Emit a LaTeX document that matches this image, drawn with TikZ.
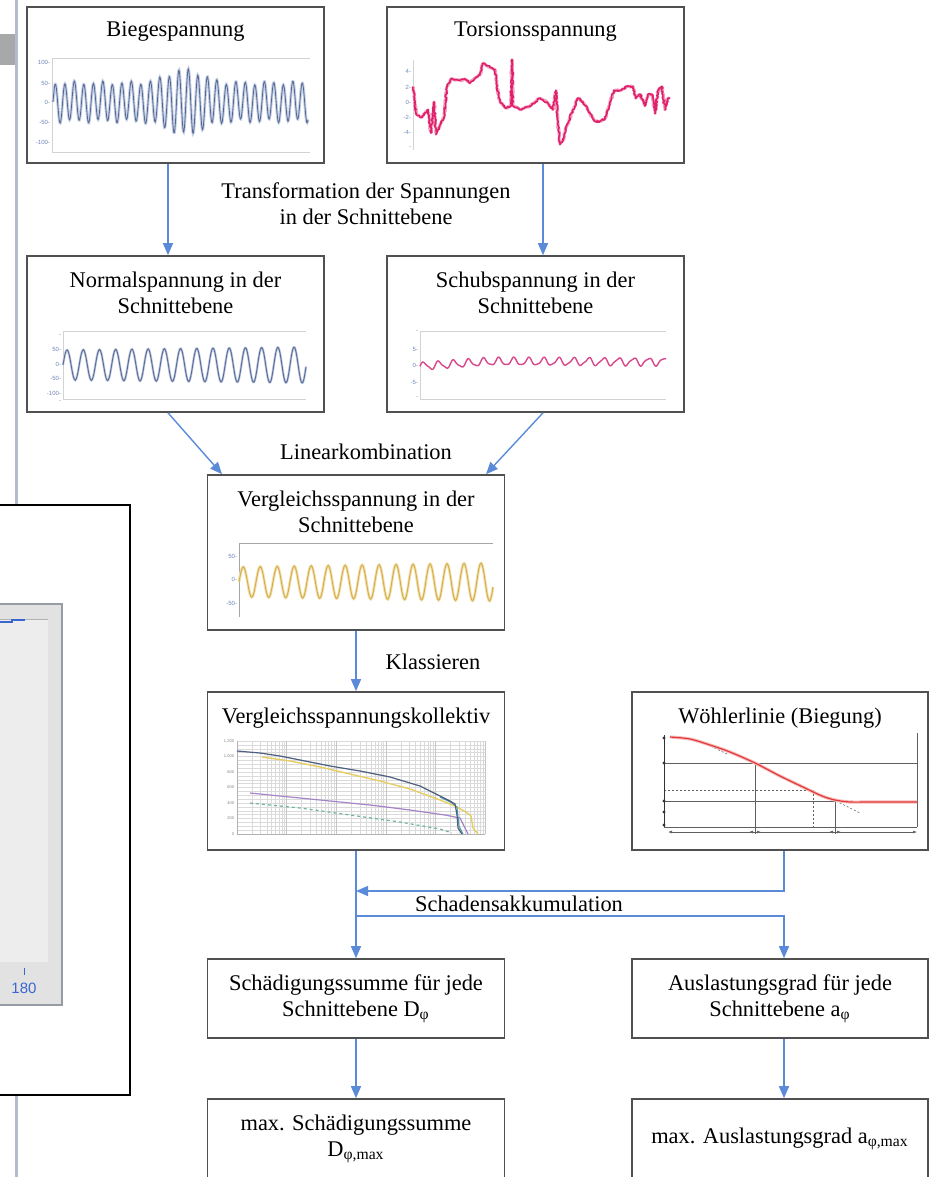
\documentclass[tikz,border=0pt]{standalone}
\usepackage{fontspec}
\setmainfont{Liberation Serif}
\newfontfamily\axisfont{Liberation Sans}
\usetikzlibrary{arrows.meta,positioning,decorations.pathmorphing}

\definecolor{arrowblue}{HTML}{5B8BD8}
\definecolor{boxgray}{HTML}{505050}
\definecolor{ticklabel}{HTML}{6F86B8}
\definecolor{biegblue}{HTML}{55668F}
\definecolor{bieghalo}{HTML}{C4D0E6}
\definecolor{torsred}{HTML}{E0206A}
\definecolor{torshalo}{HTML}{F2A0C0}
\definecolor{normblue}{HTML}{5F6E98}
\definecolor{schubpink}{HTML}{D8488A}
\definecolor{verggold}{HTML}{D6AE4E}
\definecolor{verghalo}{HTML}{F2E2B0}
\definecolor{gridgray}{HTML}{DADADA}
\definecolor{kolldark}{HTML}{4E5E7E}
\definecolor{kollteal}{HTML}{4A9AA8}
\definecolor{kollyellow}{HTML}{E6CE64}
\definecolor{kollpurple}{HTML}{A585C8}
\definecolor{kollgreen}{HTML}{6EB4A0}
\definecolor{woehred}{HTML}{E23A3A}
\definecolor{sidegray}{HTML}{B4BCCC}
\definecolor{bargray}{HTML}{A6A8AA}
\definecolor{panelgray}{HTML}{E2E2E2}
\definecolor{panelline}{HTML}{969CA4}
\definecolor{plotgray}{HTML}{EDEDED}
\definecolor{screenblue}{HTML}{3A66D0}

\begin{document}
\begin{tikzpicture}[
    x=0.5pt, y=-0.5pt,
    font=\fontsize{11.2}{13}\selectfont,
    panel/.style={draw=boxgray, line width=0.8pt, fill=white, minimum width=148.5pt, minimum height=78pt, inner sep=0pt, align=center},
    boxtitle/.style={align=center, inner sep=0pt},
    arrow/.style={-{Triangle[length=6pt, width=5pt]}, draw=arrowblue, line width=0.7pt},
    ticklbl/.style={font=\axisfont\fontsize{3}{3}\selectfont, text=ticklabel, anchor=east, inner sep=0.3pt},
    plotframe/.style={draw=gray!35, line width=0.3pt},
    thinline/.style={draw=gray!75!black, line width=0.3pt}
]
\useasboundingbox (0,0) rectangle (929,1177);
\clip (0,0) rectangle (929,1177);
\pgfmathsetseed{7}

% screen window at the left
\fill[bargray] (0,34) rectangle (15,65);
\draw[sidegray, line width=1.5pt] (16.5,0) -- (16.5,1177);
\draw[fill=white, line width=1pt] (-5,505) rectangle (129.5,1095);
\draw[fill=panelgray, draw=panelline, line width=0.8pt] (-5,604) rectangle (62,1005);
\fill[plotgray] (-5,619) rectangle (48,962);
\draw[gray!60, line width=0.5pt] (-5,619) -- (48,619);
\draw[screenblue, line width=0.6pt] (-5,622) -- (12,622) -- (12,620) -- (25,620);
\draw[screenblue, line width=0.5pt] (24,968) -- (24,975);
\node[font=\axisfont\fontsize{7.5}{7.5}\selectfont, text=screenblue, inner sep=0pt] (scr180) at (24,988) {180};

% boxes
\node[panel] (bieg) at (175.5,85) {};
\node[panel] (tors) at (535.5,85) {};
\node[panel] (normal) at (175.5,334) {};
\node[panel] (schub) at (535.5,334) {};
\node[panel, minimum height=77.5pt] (vergl) at (356,552.5) {};
\node[panel, minimum height=79pt] (koll) at (356,771) {};
\node[panel, minimum height=79pt, minimum width=148pt] (woehler) at (780,771) {};
\node[panel, minimum height=39.5pt] (schaed) at (356,998.5) {Schädigungssumme für jede\\Schnittebene D\textsubscript{φ}};
\node[panel, minimum height=39.5pt, minimum width=148pt] (ausl) at (780,998.5) {Auslastungsgrad für jede\\Schnittebene a\textsubscript{φ}};
\node[panel, minimum height=50pt] (maxd) at (356,1149) {};
\node[panel, minimum height=50pt, minimum width=148pt] (maxa) at (780,1149) {};

% box titles
\node[boxtitle] (tBieg) at ([yshift=-12.5pt]bieg.north) {Biegespannung};
\node[boxtitle] (tTors) at ([yshift=-12.5pt]tors.north) {Torsionsspannung};
\node[boxtitle] (tNormal) at ([yshift=-19pt]normal.north) {Normalspannung in der\\Schnittebene};
\node[boxtitle] (tSchub) at ([yshift=-19pt]schub.north) {Schubspannung in der\\Schnittebene};
\node[boxtitle] (tVergl) at ([yshift=-18.75pt]vergl.north) {Vergleichsspannung in der\\Schnittebene};
\node[boxtitle] (tKoll) at ([yshift=-13.5pt]koll.north) {Vergleichsspannungskollektiv};
\node[boxtitle] (tWoehler) at ([yshift=-13.5pt]woehler.north) {Wöhlerlinie (Biegung)};
\node[boxtitle] (tMaxd) at ([yshift=-20.5pt]maxd.north) {max. Schädigungssumme\\D\textsubscript{φ,max}};
\node[boxtitle] (tMaxa) at ([yshift=-20.5pt]maxa.north) {max. Auslastungsgrad a\textsubscript{φ,max}};

% step labels
\node[boxtitle] (lTrans) at (366,203.5) {Transformation der Spannungen\\in der Schnittebene};
\node[boxtitle] (lLin) at (366,452) {Linearkombination};
\node[boxtitle] (lKlass) at (433,662) {Klassieren};
\node[boxtitle] (lSchaden) at (519,904) {Schadensakkumulation};

% connectors
\draw[arrow] ([xshift=-3.75pt]bieg.south) -- ([xshift=-3.75pt]normal.north);
\draw[arrow] ([xshift=3.75pt]tors.south) -- ([xshift=3.75pt]schub.north);
\draw[arrow] ([xshift=-3.75pt]normal.south) -- ([xshift=-67pt]vergl.north);
\draw[arrow] ([xshift=3.75pt]schub.south) -- ([xshift=65pt]vergl.north);
\draw[arrow] (vergl.south) -- (koll.north);
\coordinate (jIn) at (koll.south |- 0,891);
\coordinate (jOut) at (koll.south |- 0,916);
\draw[arrow] ([xshift=2pt]woehler.south) |- (jIn);
\draw[arrow] (koll.south) -- (schaed.north);
\draw[arrow] (jOut) -| ([xshift=2pt]ausl.north);
\draw[arrow] (schaed.south) -- (maxd.north);
\draw[arrow] ([xshift=2pt]ausl.south) -- ([xshift=2pt]maxa.north);

% Biegespannung plot
\draw[plotframe] (52,58) -- (310,58);
\draw[plotframe] (52,58) -- (52,152) -- (310,152);
\foreach \v/\yy [count=\i] in {100/62, 50/83, 0/102, -50/122, -100/142}
  \node[ticklbl] (bt\i) at (51,\yy) {\v-};
\draw[bieghalo, line width=1.4pt] plot[domain=53:308, samples=600] (\x, {102 - (19+13*exp(-((\x-185)/24)^2))*sin((\x-53)*37.9) + 2*sin((\x-53)*13)});
\draw[biegblue, line width=0.4pt] plot[domain=53:308, samples=600] (\x, {102 - (19+13*exp(-((\x-185)/24)^2))*sin((\x-53)*37.9) + 2*sin((\x-53)*13)});

% Torsionsspannung plot
\draw[plotframe] (413,60) -- (413,150);
\foreach \v/\yy [count=\i] in {4/71, 2/87, 0/102, -2/117, -4/132, /148}
  \node[ticklbl] (tt\i) at (412,\yy) {\v-};
\begin{scope}[shift={(0,102)}, y=3.85pt, line join=round]
\draw[torshalo, line width=1.5pt, decorate, decoration={random steps, segment length=0.8pt, amplitude=0.4pt}]
  plot coordinates {(413,2) (416,-1.5) (422,-2) (428,-1) (431,-4) (434,0) (436,-4.2) (440,-3) (444,-2) (447,2) (451,3) (460,2.8) (465,3) (470,2.5) (476,3.2) (480,3.5) (483,5) (490,4.5) (495,4.2) (497,2) (500,0) (506,-0.8) (511,-0.5) (512,5.5) (513,-0.5) (520,-1) (530,-0.5) (540,0.5) (547,0) (553,-1) (556,1.5) (558,-3) (560,-5.5) (563,-5) (567,-3) (573,-1) (578,0.5) (583,0) (590,-1.5) (595,-2.5) (600,-2.5) (605,-2.2) (610,0) (614,1.5) (620,1.5) (627,2) (633,2) (636,0.5) (640,1) (645,-0.5) (648,1) (652,1) (655,-1.5) (658,1.5) (662,2) (665,-1) (668,0.5) (670,0.5)};
\draw[torsred, line width=0.8pt, decorate, decoration={random steps, segment length=0.7pt, amplitude=0.5pt}]
  plot coordinates {(413,2) (416,-1.5) (422,-2) (428,-1) (431,-4) (434,0) (436,-4.2) (440,-3) (444,-2) (447,2) (451,3) (460,2.8) (465,3) (470,2.5) (476,3.2) (480,3.5) (483,5) (490,4.5) (495,4.2) (497,2) (500,0) (506,-0.8) (511,-0.5) (512,5.5) (513,-0.5) (520,-1) (530,-0.5) (540,0.5) (547,0) (553,-1) (556,1.5) (558,-3) (560,-5.5) (563,-5) (567,-3) (573,-1) (578,0.5) (583,0) (590,-1.5) (595,-2.5) (600,-2.5) (605,-2.2) (610,0) (614,1.5) (620,1.5) (627,2) (633,2) (636,0.5) (640,1) (645,-0.5) (648,1) (652,1) (655,-1.5) (658,1.5) (662,2) (665,-1) (668,0.5) (670,0.5)};
\end{scope}

% Normalspannung plot
\draw[plotframe] (63,331) -- (306,331);
\draw[plotframe] (63,331) -- (63,399) -- (306,399);
\foreach \v/\yy [count=\i] in {/336, 50/349, 0/364, -50/378, -100/393, /402}
  \node[ticklbl] (nt\i) at (62,\yy) {\v-};
\draw[bieghalo, line width=1.2pt] plot[domain=63:306, samples=300] (\x, {365 - (15+3*(\x-63)/243)*sin((\x-63)*22.2)});
\draw[normblue, line width=0.5pt] plot[domain=63:306, samples=300] (\x, {365 - (15+3*(\x-63)/243)*sin((\x-63)*22.2)});

% Schubspannung plot
\draw[plotframe] (420,331) -- (666,331);
\draw[plotframe] (420,331) -- (420,399) -- (666,399);
\foreach \v/\yy [count=\i] in {/332, 5/349, 0/365, -5/382, /398}
  \node[ticklbl] (st\i) at (419,\yy) {\v-};
\draw[schubpink, line width=0.7pt] plot[domain=420:666, samples=300] (\x, {365 - 3.3*(min(1,-0.4+1.4*(\x-420)/70) + 1.1*sin((\x-420)*24) + 0.3*sin((\x-420)*47))});

% Vergleichsspannung plot
\draw[gray!70, line width=0.4pt] (493,543) -- (239,543) -- (239,617);
\foreach \v/\yy [count=\i] in {50/556, 0/579, -50/603}
  \node[ticklbl] (vt\i) at (238,\yy) {\v-};
\draw[verghalo, line width=1.4pt] plot[domain=239:493, samples=300] (\x, {582 - (15+4*(\x-239)/254)*sin((\x-239)*21.2)});
\draw[verggold, line width=0.5pt] plot[domain=239:493, samples=300] (\x, {582 - (15+4*(\x-239)/254)*sin((\x-239)*21.2)});

% Kollektiv plot
\foreach \i in {0,...,24}
  \draw[gridgray, line width=0.2pt] (237,{741+\i*93/24}) -- (485,{741+\i*93/24});
\foreach \d in {0,...,4}
  \foreach \k in {2,...,9}
    \draw[gridgray, line width=0.2pt] ({237+49.6*(\d+log10(\k))},741) -- ++(0,93);
\foreach \d in {0,...,5}
  \draw[gray!45, line width=0.3pt] ({237+49.6*\d},741) -- ++(0,93);
\draw[gray!60, line width=0.3pt] (237,741) -- (237,834) -- (485,834);
\foreach \v [count=\i] in {{1,200},{1,000},800,600,400,200,0}
  \node[ticklbl, text=gray, font=\axisfont\fontsize{2}{2}\selectfont] (kt\i) at (235,{741+(\i-1)*93/6}) {\v};
\draw[kollgreen, line width=0.6pt, dashed, dash pattern=on 1.5pt off 1.5pt] plot coordinates {(250,803) (300,808) (350,815) (400,822) (440,829) (452,833)};
\draw[kollpurple, line width=0.6pt] plot coordinates {(250,793) (290,797) (330,801) (370,805) (410,810) (445,815) (460,818) (464,826) (468,834)};
\draw[kollyellow, line width=0.7pt] plot coordinates {(262,757) (290,761) (320,767) (350,774) (380,781) (410,789) (440,800) (455,806) (466,812) (471,816) (473,828) (478,834)};
\draw[kollteal, line width=0.5pt] plot coordinates {(440,797) (452,803) (457,807) (459,826) (463,834)};
\draw[kolldark, line width=0.6pt] plot coordinates {(237,751) (260,753) (280,756) (300,760) (330,766) (360,771) (390,777) (420,786) (440,796) (450,801) (455,804) (457,815) (458,828) (462,834)};

% Woehler plot
\draw[thinline] (664,763) -- (917,763);
\draw[thinline] (664,801) -- (917,801);
\draw[thinline] (664,827) -- (917,827);
\draw[thinline] (917,733) -- (917,827);
\draw[thinline, dashed, dash pattern=on 1pt off 1pt] (664,790) -- (813,790);
\draw[thinline, dashed, dash pattern=on 1pt off 1pt] (813,790) -- (813,827);
\draw[thinline] (755,763) -- (755,834);
\draw[thinline] (835,801) -- (835,834);
\draw[thinline, {Latex[length=2pt,width=1.5pt]}-{Latex[length=2pt,width=1.5pt]}] (668,832) -- (917,832);
\foreach \xx in {755,835}
  \draw[thinline, {Latex[length=2pt,width=1.5pt]}-{Latex[length=2pt,width=1.5pt]}] (\xx-6,832) -- (\xx+6,832);
\draw[black!80, line width=0.4pt] (664,735) -- (664,827);
\foreach \yy in {738,763,801,812,825}
  \fill[black!80] (664,\yy) circle (0.8pt);
\draw[thinline, dashed, dash pattern=on 1pt off 1pt] (700,741) -- (727,754);
\draw[thinline, dashed, dash pattern=on 1pt off 1pt] (836,801) -- (860,813);
\draw[woehred!35, line width=1.6pt] plot[smooth] coordinates {(670,737) (690,739) (710,745) (730,752) (755,763) (780,776) (805,788) (822,796) (835,800) (850,802) (870,802) (917,802)};
\draw[woehred, line width=0.6pt] plot[smooth] coordinates {(670,737) (690,739) (710,745) (730,752) (755,763) (780,776) (805,788) (822,796) (835,800) (850,802) (870,802) (917,802)};

\end{tikzpicture}
\end{document}
